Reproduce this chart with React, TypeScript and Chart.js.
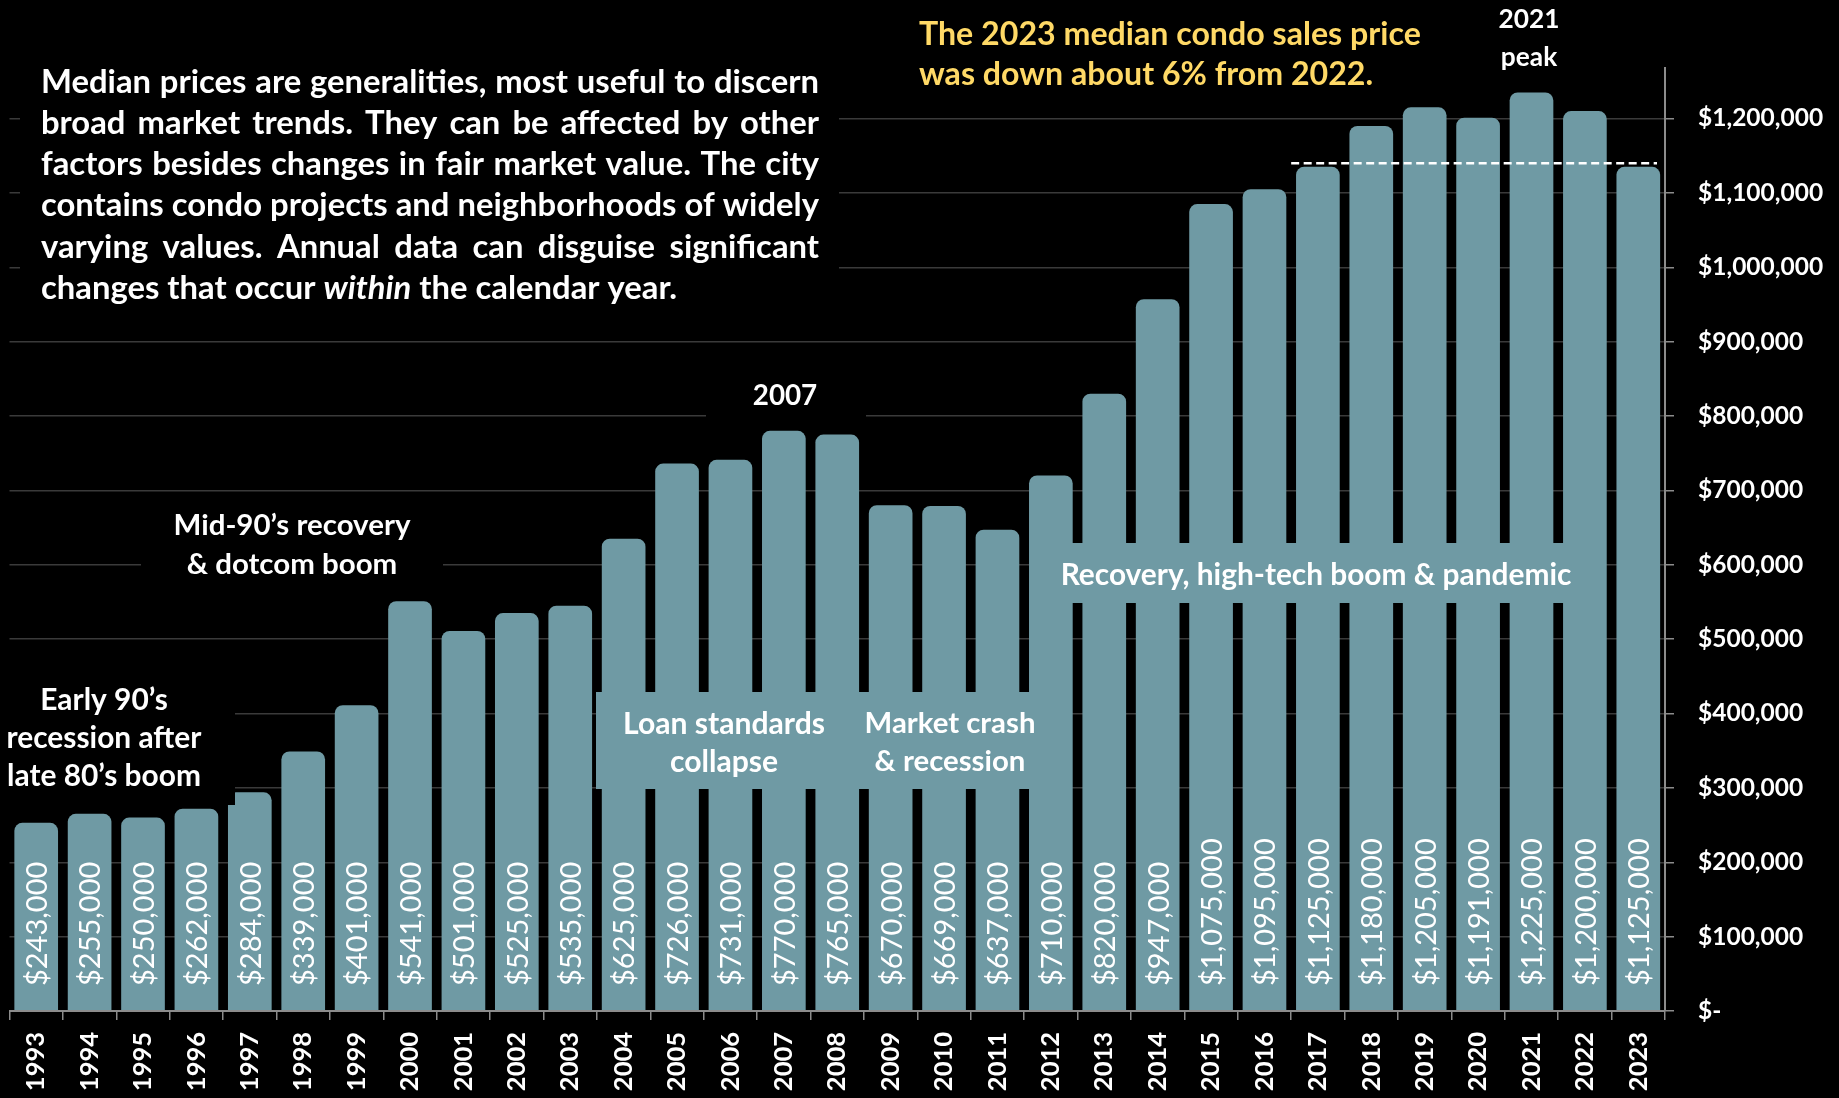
import React, { useEffect, useRef } from 'react';
import { Chart, registerables } from 'chart.js';

Chart.register(...registerables);

// ---------- data ----------
const YEARS = [
  '1993', '1994', '1995', '1996', '1997', '1998', '1999', '2000', '2001', '2002',
  '2003', '2004', '2005', '2006', '2007', '2008', '2009', '2010', '2011', '2012',
  '2013', '2014', '2015', '2016', '2017', '2018', '2019', '2020', '2021', '2022', '2023',
];
const MEDIAN_PRICES = [
  243000, 255000, 250000, 262000, 284000, 339000, 401000, 541000, 501000, 525000,
  535000, 625000, 726000, 731000, 770000, 765000, 670000, 669000, 637000, 710000,
  820000, 947000, 1075000, 1095000, 1125000, 1180000, 1205000, 1191000, 1225000, 1200000, 1125000,
];
const Y_MIN = 0;
const Y_MAX = 1268000;
const Y_TICKS = [
  0, 100000, 200000, 300000, 400000, 500000, 600000,
  700000, 800000, 900000, 1000000, 1100000, 1200000,
];
const REFERENCE_LEVEL = 1140000;
const REFERENCE_START_YEAR = '2017';

const NOTE_LINES: { text: string; italic?: boolean }[][] = [
  [{ text: 'Median prices are generalities, most useful to discern' }],
  [{ text: 'broad market trends. They can be affected by other' }],
  [{ text: 'factors besides changes in fair market value. The city' }],
  [{ text: 'contains condo projects and neighborhoods of widely' }],
  [{ text: 'varying values. Annual data can disguise significant' }],
  [{ text: 'changes that occur ' }, { text: 'within', italic: true }, { text: ' the calendar year.' }],
];
const HIGHLIGHT_LINES = ['The 2023 median condo sales price', 'was down about 6% from 2022.'];
const PEAK_LINES = ['2021', 'peak'];
const PEAK_2007_LINES = ['2007'];
const MID90_LINES = ['Mid-90\u2019s recovery', '& dotcom boom'];
const EARLY90_LINES = ['Early 90\u2019s', 'recession after', 'late 80\u2019s boom'];
const LOAN_LINES = ['Loan standards', 'collapse'];
const CRASH_LINES = ['Market crash', '& recession'];
const RECOVERY_LINES = ['Recovery, high-tech boom & pandemic'];

// ---------- styles / layout ----------
const W = 1839;
const H = 1098;
const FONT_FAMILY = 'Lato';
const BAR_COLOR = '#6F9AA4';
const GRID_COLOR = '#3a3a3a';
const AXIS_COLOR = '#8c8c8c';
const GOLD = '#FFD966';

const fontStr = (size: number, weight = 700, italic = false) =>
  `${italic ? 'italic ' : ''}${weight} ${size}px ${FONT_FAMILY}`;

const fmtMoney = (v: number) => '$' + Math.round(v).toLocaleString('en-US');

function fitSize(ctx: CanvasRenderingContext2D, text: string, target: number, weight = 700) {
  ctx.font = fontStr(100, weight);
  return (100 * target) / ctx.measureText(text).width;
}

type Block = {
  lines: string[];
  x: number;
  ys: number[];
  fitLine: number;
  fitWidth: number;
  align: CanvasTextAlign;
  color: string;
};

const BLOCKS: Block[] = [
  { lines: HIGHLIGHT_LINES, x: 919, ys: [35, 75], fitLine: 0, fitWidth: 502, align: 'left', color: GOLD },
  { lines: PEAK_LINES, x: 1529, ys: [20, 57.5], fitLine: 0, fitWidth: 61, align: 'center', color: '#fff' },
  { lines: PEAK_2007_LINES, x: 785, ys: [396], fitLine: 0, fitWidth: 64.5, align: 'center', color: '#fff' },
  { lines: MID90_LINES, x: 292, ys: [525.5, 564], fitLine: 0, fitWidth: 237, align: 'center', color: '#fff' },
  { lines: EARLY90_LINES, x: 104, ys: [700, 738, 776], fitLine: 1, fitWidth: 195, align: 'center', color: '#fff' },
  { lines: LOAN_LINES, x: 724, ys: [724, 762], fitLine: 0, fitWidth: 202, align: 'center', color: '#fff' },
  { lines: CRASH_LINES, x: 950, ys: [724, 762], fitLine: 0, fitWidth: 171, align: 'center', color: '#fff' },
  { lines: RECOVERY_LINES, x: 1316, ys: [575], fitLine: 0, fitWidth: 511, align: 'center', color: '#fff' },
];

const BOXES = [
  { x: 20, y: 40, w: 819, h: 280, color: '#000' },
  { x: 706, y: 370, w: 160, h: 55, color: '#000' },
  { x: 141, y: 497, w: 302, h: 92, color: '#000' },
  { x: 0, y: 655, w: 235, h: 150, color: '#000' },
  { x: 596, y: 692, w: 444, h: 97, color: BAR_COLOR },
  { x: 1050, y: 543, w: 540, h: 60, color: BAR_COLOR },
];

const NOTE_BOX = { x: 41, y0: 82, lh: 41.3, width: 778 };

const overlayPlugin = {
  id: 'overlay',
  afterDatasetsDraw(chart: any) {
    const ctx: CanvasRenderingContext2D = chart.ctx;
    const meta = chart.getDatasetMeta(0);
    const yScale = chart.scales.y;
    const xScale = chart.scales.x;
    const zeroY = yScale.getPixelForValue(0);
    ctx.save();

    // data labels inside base
    ctx.font = fontStr(29, 400);
    ctx.fillStyle = '#fff';
    ctx.textAlign = 'left';
    ctx.textBaseline = 'middle';
    meta.data.forEach((bar: any, i: number) => {
      ctx.save();
      ctx.translate(bar.x + 1.5, zeroY - 25);
      ctx.rotate(-Math.PI / 2);
      ctx.fillText(fmtMoney(MEDIAN_PRICES[i]), 0, 0);
      ctx.restore();
    });

    // background boxes
    BOXES.forEach((b) => {
      ctx.fillStyle = b.color;
      ctx.fillRect(b.x, b.y, b.w, b.h);
    });

    // dashed reference line
    const idx = YEARS.indexOf(REFERENCE_START_YEAR);
    const catW = xScale.getPixelForValue(1) - xScale.getPixelForValue(0);
    const x0 = xScale.getPixelForValue(idx) - catW / 2;
    const x1 = chart.chartArea.right - 8;
    const yr = yScale.getPixelForValue(REFERENCE_LEVEL);
    ctx.strokeStyle = '#fff';
    ctx.lineWidth = 2.5;
    ctx.setLineDash([8, 4.5]);
    ctx.beginPath();
    ctx.moveTo(x0, yr);
    ctx.lineTo(x1, yr);
    ctx.stroke();
    ctx.setLineDash([]);

    // justified note
    ctx.fillStyle = '#fff';
    ctx.textBaseline = 'middle';
    ctx.textAlign = 'left';
    const noteSize = Math.min(
      ...NOTE_LINES.slice(0, NOTE_LINES.length - 1).map((l) =>
        fitSize(ctx, l.map((s) => s.text).join(''), NOTE_BOX.width)
      )
    );
    NOTE_LINES.forEach((segs, i) => {
      const y = NOTE_BOX.y0 + i * NOTE_BOX.lh;
      if (i < NOTE_LINES.length - 1) {
        ctx.font = fontStr(noteSize);
        const words = segs.map((s) => s.text).join('').split(' ');
        const widths = words.map((w) => ctx.measureText(w).width);
        const total = widths.reduce((a, b) => a + b, 0);
        const gap = (NOTE_BOX.width - total) / (words.length - 1);
        let x = NOTE_BOX.x;
        words.forEach((w, j) => {
          ctx.fillText(w, x, y);
          x += widths[j] + gap;
        });
      } else {
        let x = NOTE_BOX.x;
        segs.forEach((s) => {
          ctx.font = fontStr(noteSize, 700, !!s.italic);
          ctx.fillText(s.text, x, y);
          x += ctx.measureText(s.text).width;
        });
      }
    });

    // annotation blocks
    BLOCKS.forEach((b) => {
      const size = fitSize(ctx, b.lines[b.fitLine], b.fitWidth);
      ctx.font = fontStr(size);
      ctx.fillStyle = b.color;
      ctx.textAlign = b.align;
      ctx.textBaseline = 'middle';
      b.lines.forEach((line, i) => ctx.fillText(line, b.x, b.ys[i]));
    });

    ctx.restore();
  },
};

export default function App() {
  const canvasRef = useRef<HTMLCanvasElement | null>(null);

  useEffect(() => {
    if (!canvasRef.current) return;
    const chart = new Chart(canvasRef.current, {
      type: 'bar',
      data: {
        labels: YEARS,
        datasets: [
          {
            data: MEDIAN_PRICES,
            backgroundColor: BAR_COLOR,
            borderWidth: 0,
            borderRadius: 8,
            borderSkipped: 'start',
            inflateAmount: 7.5,
            barPercentage: 0.537,
            categoryPercentage: 1,
            clip: { left: false, top: false, right: false, bottom: -1 },
          } as any,
        ],
      },
      options: {
        animation: false,
        responsive: true,
        maintainAspectRatio: false,
        events: [],
        layout: { padding: { left: 9.5, top: 68, right: 0, bottom: 0 } },
        plugins: { legend: { display: false }, tooltip: { enabled: false }, title: { display: false } },
        scales: {
          x: {
            position: 'bottom',
            grid: {
              display: true,
              drawOnChartArea: false,
              drawTicks: true,
              tickLength: 9,
              tickColor: AXIS_COLOR,
              color: AXIS_COLOR,
              lineWidth: 1.5,
              offset: true,
              z: 1,
            },
            border: { display: true, color: AXIS_COLOR, width: 2, z: 1 },
            ticks: {
              color: '#fff',
              font: { family: FONT_FAMILY, weight: 'bold', size: 25.5 },
              minRotation: 90,
              maxRotation: 90,
              autoSkip: false,
              padding: 12,
              z: 1,
            },
            afterFit: (s: any) => {
              s.height = H - 1011;
            },
          },
          y: {
            position: 'right',
            min: Y_MIN,
            max: Y_MAX,
            grid: { color: GRID_COLOR, lineWidth: 1.5, tickColor: AXIS_COLOR, tickLength: 9 },
            border: { display: true, color: AXIS_COLOR, width: 2 },
            afterBuildTicks: (s: any) => {
              s.ticks = Y_TICKS.map((value) => ({ value }));
            },
            ticks: {
              color: '#fff',
              font: { family: FONT_FAMILY, weight: 'bold', size: 24.5 },
              padding: 24,
              callback: (v: any) => (Number(v) === 0 ? '$-' : fmtMoney(Number(v))),
            },
            afterFit: (s: any) => {
              s.width = W - 1665;
            },
          },
        },
      } as any,
      plugins: [overlayPlugin],
    });
    return () => chart.destroy();
  }, []);

  return (
    <div style={{ position: 'fixed', left: 0, top: 0, width: W, height: H, background: '#000' }}>
      <canvas ref={canvasRef} />
    </div>
  );
}
